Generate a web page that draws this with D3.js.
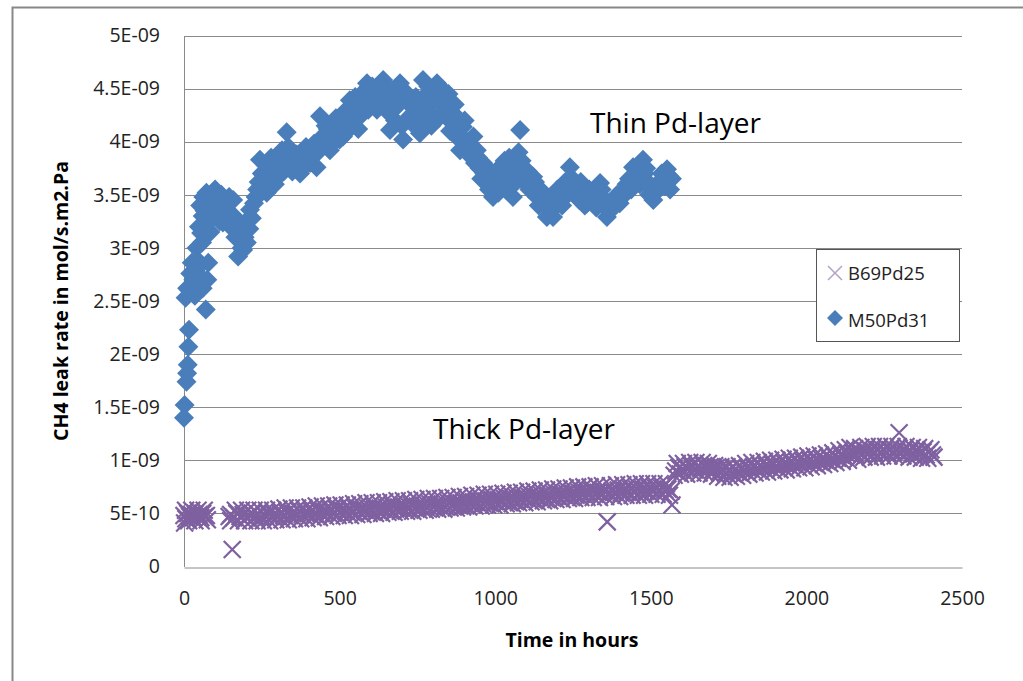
<!DOCTYPE html>
<html><head><meta charset="utf-8">
<script src="https://cdn.jsdelivr.net/npm/d3@7"></script>
<style>
html,body{margin:0;padding:0;background:#fff;}
svg{display:block;font-family:"Open Sans",sans-serif;}
</style></head>
<body>
<svg id="chart" width="1023" height="681"></svg>
<script>
// ---- data (hours, leak rate in units of 1E-09 mol/s.m2.Pa) ----
const seriesNames = ["B69Pd25", "M50Pd31"];
const yTickValues = [0, 0.5, 1, 1.5, 2, 2.5, 3, 3.5, 4, 4.5, 5];
const yTickLabels = ["0", "5E-10", "1E-09", "1.5E-09", "2E-09", "2.5E-09", "3E-09", "3.5E-09", "4E-09", "4.5E-09", "5E-09"];
const xTickValues = [0, 500, 1000, 1500, 2000, 2500];
const annotations = ["Thin Pd-layer", "Thick Pd-layer"];

const b69Hours = [0,6,12,18,24,30,36,42,48,54,60,66,72,2,
5,15,25,35,45,55,65,75,
145,155,150,160,170,180,190,200,210,220,230,240,250,260,270,280,290,300,310,320,330,340,350,360,370,380,390,400,410,420,430,440,450,460,470,480,490,500,510,520,530,540,550,560,570,580,590,600,610,620,630,640,650,660,670,680,690,700,710,720,730,740,750,760,770,780,790,800,810,820,830,840,850,860,870,880,890,900,910,920,930,940,950,960,970,980,990,1000,1010,1020,1030,1040,1050,1060,1070,1080,1090,1100,1110,1120,1130,1140,1150,1160,1170,1180,1190,1200,1210,1220,1230,1240,1250,1260,1270,1280,1290,1300,1310,1320,1330,1340,1350,1360,1365,1375,1385,1395,1405,1415,1425,1435,1445,1455,1465,1475,1485,1495,1505,1515,1525,1535,1545,1555,1568,1565,
150,165,175,185,195,205,215,225,235,245,255,265,275,285,295,305,315,325,335,345,355,365,375,385,395,405,415,425,435,445,455,465,475,485,495,505,515,525,535,545,555,565,575,585,595,605,615,625,635,645,655,665,675,685,695,705,715,725,735,745,755,765,775,785,795,805,815,825,835,845,855,865,875,885,895,905,915,925,935,945,955,965,975,985,995,1005,1015,1025,1035,1045,1055,1065,1075,1085,1095,1105,1115,1125,1135,1145,1155,1165,1175,1185,1195,1205,1215,1225,1235,1245,1255,1265,1275,1285,1295,1305,1315,1325,1335,1345,1355,1370,1380,1390,1400,1410,1420,1430,1440,1450,1460,1470,1480,1490,1500,1510,1520,1530,1540,1550,1560,
1575,1580,1590,1600,1610,1620,1630,1640,1650,1660,1670,1680,1690,1700,1710,1720,1730,1740,1750,1760,1770,1780,1790,1800,1810,1820,1830,1840,1850,1860,1870,1880,1890,1900,1910,1920,1930,1940,1950,1960,1970,1980,1990,2000,2010,2020,2030,2040,2050,2060,2070,2080,2090,2100,2110,2120,2130,2140,2145,2150,2160,2170,2180,2190,2200,2210,2220,2230,2240,2250,2260,2270,2280,2290,2298,2305,2315,2325,2335,2345,2355,2365,2375,2385,2395,2405,2410,
1585,1595,1605,1615,1625,1635,1645,1655,1665,1675,1685,1695,1705,1715,1725,1735,1745,1755,1765,1775,1785,1795,1805,1815,1825,1835,1845,1855,1865,1875,1885,1895,1905,1915,1925,1935,1945,1955,1965,1975,1985,1995,2005,2015,2025,2035,2045,2055,2065,2075,2085,2095,2105,2115,2125,2135,2155,2165,2175,2185,2195,2205,2215,2225,2235,2245,2255,2265,2275,2285,2295,2310,2320,2330,2340,2350,2360,2370,2380,2390,2400];
const b69Values = [0.48,0.45,0.50,0.47,0.49,0.46,0.50,0.47,0.49,0.46,0.50,0.47,0.48,0.41,
0.53,0.43,0.53,0.43,0.53,0.43,0.53,0.44,
0.47,0.16,0.49,0.46,0.50,0.47,0.49,0.46,0.48,0.50,0.47,0.49,0.46,0.48,0.50,0.47,0.49,0.47,0.50,0.48,0.51,0.48,0.50,0.49,0.52,0.49,0.51,0.50,0.52,0.49,0.53,0.50,0.52,0.51,0.53,0.50,0.54,0.51,0.53,0.52,0.54,0.51,0.55,0.52,0.54,0.53,0.55,0.52,0.56,0.53,0.55,0.54,0.56,0.53,0.57,0.54,0.56,0.55,0.57,0.54,0.58,0.55,0.57,0.56,0.58,0.55,0.59,0.56,0.58,0.57,0.59,0.56,0.60,0.57,0.59,0.58,0.60,0.58,0.61,0.59,0.61,0.60,0.62,0.59,0.62,0.60,0.63,0.61,0.63,0.62,0.64,0.61,0.64,0.62,0.65,0.63,0.65,0.64,0.66,0.63,0.66,0.65,0.67,0.64,0.67,0.65,0.68,0.66,0.68,0.67,0.69,0.66,0.69,0.67,0.70,0.68,0.70,0.69,0.71,0.68,0.70,0.69,0.71,0.42,0.69,0.71,0.70,0.72,0.69,0.72,0.70,0.73,0.71,0.73,0.70,0.73,0.71,0.74,0.72,0.74,0.71,0.74,0.72,0.73,0.58,0.71,
0.43,0.53,0.43,0.53,0.43,0.53,0.43,0.53,0.43,0.53,0.43,0.53,0.43,0.53,0.44,0.54,0.44,0.55,0.44,0.55,0.45,0.55,0.45,0.55,0.45,0.56,0.46,0.57,0.46,0.57,0.47,0.57,0.47,0.58,0.48,0.58,0.48,0.58,0.48,0.59,0.49,0.59,0.49,0.60,0.50,0.60,0.50,0.60,0.50,0.61,0.51,0.61,0.51,0.62,0.52,0.62,0.52,0.62,0.52,0.63,0.53,0.63,0.53,0.64,0.54,0.64,0.54,0.64,0.54,0.65,0.55,0.65,0.55,0.66,0.56,0.66,0.56,0.67,0.57,0.67,0.57,0.68,0.58,0.68,0.58,0.68,0.58,0.69,0.59,0.69,0.59,0.70,0.60,0.70,0.60,0.71,0.61,0.71,0.61,0.72,0.62,0.72,0.62,0.73,0.63,0.73,0.63,0.74,0.64,0.74,0.64,0.75,0.65,0.75,0.65,0.75,0.65,0.76,0.65,0.76,0.66,0.76,0.66,0.77,0.66,0.77,0.67,0.77,0.67,0.78,0.67,0.78,0.67,0.78,0.68,0.78,0.68,0.78,0.68,0.78,0.67,
0.86,0.90,0.93,0.91,0.94,0.92,0.95,0.91,0.94,0.92,0.95,0.93,0.94,0.91,0.93,0.89,0.91,0.88,0.90,0.88,0.91,0.89,0.92,0.91,0.93,0.92,0.94,0.92,0.95,0.93,0.95,0.94,0.96,0.94,0.97,0.95,0.97,0.96,0.98,0.96,0.99,0.97,0.99,0.98,1.00,0.98,1.01,0.99,1.01,1.00,1.03,1.01,1.04,1.02,1.05,1.03,1.06,1.12,1.05,1.07,1.05,1.08,1.06,1.09,1.07,1.09,1.07,1.10,1.08,1.09,1.07,1.10,1.08,1.09,1.26,1.07,1.10,1.08,1.09,1.06,1.09,1.07,1.08,1.05,1.08,1.05,1.03,
0.97,0.87,0.97,0.87,0.98,0.88,0.98,0.88,0.98,0.88,0.97,0.87,0.95,0.85,0.94,0.84,0.94,0.84,0.94,0.85,0.95,0.86,0.97,0.87,0.98,0.88,0.98,0.89,0.99,0.89,1.00,0.90,1.00,0.91,1.01,0.91,1.02,0.92,1.02,0.93,1.03,0.93,1.04,0.94,1.04,0.95,1.05,0.96,1.06,0.97,1.07,0.98,1.09,0.99,1.10,1.00,1.11,1.01,1.12,1.03,1.13,1.03,1.13,1.03,1.13,1.04,1.13,1.04,1.13,1.04,1.13,1.04,1.13,1.03,1.12,1.03,1.12,1.02,1.11,1.02,1.10];

const m50Hours = [0,2,8,10,12,14,16,5,10,18,20,25,30,35,40,45,50,60,70,75,78,
55,60,62,70,80,90,100,106,115,125,130,140,150,158,165,174,185,195,202,212,225,235,244,250,257,266,275,285,300,310,320,330,340,355,373,385,400,410,426,437,445,455,469,480,495,511,520,533,545,555,566,575,588,600,615,628,640,650,662,672,685,694,704,712,725,740,758,768,780,790,800,813,822,832,845,855,864,875,887,896,910,925,941,950,961,970,980,993,1005,1015,1025,1035,1045,1057,1065,1075,1080,1090,1100,1110,1122,1134,1145,1155,1166,1180,1186,1195,1210,1225,1240,1255,1270,1282,1295,1310,1325,1337,1348,1359,1370,1385,1400,1415,1430,1443,1455,1465,1475,1485,1495,1508,1520,1535,1552,1562,1568,
40,48,52,58,66,72,85,95,110,120,135,145,160,170,180,190,200,210,218,230,240,248,262,270,280,292,305,315,325,335,348,362,380,392,405,418,430,450,462,475,488,500,515,525,540,550,560,570,580,592,605,620,635,645,655,668,678,690,700,718,730,745,752,762,775,785,795,805,818,828,840,850,860,870,880,892,902,915,930,935,945,955,965,975,985,998,1010,1020,1030,1040,1050,1060,1070,1085,1095,1105,1115,1128,1140,1150,1160,1172,1190,1200,1215,1220,1232,1248,1262,1275,1288,1302,1318,1330,1342,1353,1365,1378,1392,1408,1422,1437,1450,1460,1470,1480,1490,1500,1515,1528,1545,1558];
const m50Values = [1.40,1.52,1.74,1.82,1.90,2.07,2.23,2.53,2.62,2.60,2.76,2.86,2.70,2.55,2.80,2.88,2.74,2.62,2.42,2.70,2.86,
3.14,3.30,3.48,3.22,3.40,3.30,3.55,3.45,3.25,3.24,3.40,3.35,3.20,3.45,3.10,2.92,3.00,3.10,3.05,3.36,3.42,3.55,3.83,3.70,3.64,3.52,3.72,3.68,3.75,3.85,3.72,4.09,3.86,3.80,3.70,3.82,3.88,3.95,3.76,4.24,4.05,4.15,3.92,4.14,4.10,4.05,4.20,4.39,4.25,4.30,4.24,4.40,4.55,4.45,4.38,4.50,4.58,4.40,4.11,4.30,4.45,4.55,4.02,4.20,4.35,4.28,4.08,4.58,4.45,4.35,4.25,4.55,4.40,4.34,4.25,4.10,4.27,4.05,3.92,4.14,3.95,3.85,3.92,3.75,3.80,3.62,3.55,3.48,3.60,3.76,3.65,3.55,3.85,3.48,3.70,3.90,4.11,3.75,3.60,3.55,3.67,3.48,3.55,3.42,3.29,3.35,3.29,3.45,3.50,3.62,3.76,3.60,3.45,3.55,3.42,3.50,3.38,3.61,3.40,3.29,3.35,3.45,3.42,3.55,3.65,3.76,3.70,3.60,3.83,3.75,3.50,3.45,3.60,3.70,3.74,3.55,3.65,
3.00,3.20,3.40,3.05,3.35,3.52,3.15,3.48,3.35,3.50,3.28,3.48,3.30,3.22,3.15,2.98,3.25,3.18,3.28,3.48,3.62,3.52,3.78,3.62,3.85,3.60,3.68,3.92,3.80,3.95,3.72,3.88,3.75,3.95,3.80,3.98,3.90,4.00,4.12,3.98,4.22,4.02,4.28,4.10,4.18,4.42,4.12,4.30,4.48,4.30,4.52,4.30,4.40,4.50,4.28,4.48,4.20,4.35,4.15,4.45,4.18,4.42,4.20,4.35,4.25,4.52,4.15,4.45,4.22,4.50,4.38,4.45,4.18,4.35,4.18,4.05,4.20,3.98,4.05,3.80,3.85,3.65,3.70,3.75,3.58,3.65,3.52,3.70,3.82,3.62,3.72,3.60,3.78,3.82,3.68,3.72,3.58,3.62,3.40,3.52,3.40,3.45,3.38,3.55,3.40,3.55,3.50,3.65,3.52,3.62,3.40,3.55,3.45,3.50,3.55,3.45,3.42,3.38,3.50,3.48,3.60,3.55,3.62,3.78,3.65,3.70,3.62,3.55,3.52,3.62,3.58,3.68];

// ---- layout ----
const svg = d3.select("#chart");
const x = d3.scaleLinear().domain([0, 2500]).range([184, 962]);
const y = d3.scaleLinear().domain([0, 5]).range([566.5, 35.5]);
const gridColor = "#8a8a8a";
const blue = "#4a7ebb", purple = "#7f60a0", lightPurple = "#b3a2c7";

// outer frame
svg.append("path").attr("d", "M12.5,690 L12.5,7.5 L1030,7.5")
  .attr("fill", "none").attr("stroke", "#888").attr("stroke-width", 2);

// gridlines
svg.append("g").selectAll("line").data(yTickValues.slice(1)).join("line")
  .attr("x1", x(0)).attr("x2", x(2500))
  .attr("y1", d => Math.round(y(d)) + 0.5).attr("y2", d => Math.round(y(d)) + 0.5)
  .attr("stroke", gridColor).attr("stroke-width", 1);

// axes
const yAxis = d3.axisLeft(y).tickValues(yTickValues).tickSize(0).tickPadding(24)
  .tickFormat((d, i) => yTickLabels[i]);
const gy = svg.append("g").attr("transform", `translate(${x(0)},0)`).call(yAxis);
gy.select(".domain").attr("stroke", gridColor);
gy.selectAll("text").attr("font-family", "Open Sans").attr("font-size", 19.5).attr("fill", "#222");

const xAxis = d3.axisBottom(x).tickValues(xTickValues).tickSize(0).tickPadding(24)
  .tickFormat(d3.format("d"));
const gx = svg.append("g").attr("transform", `translate(0,${Math.round(y(0)) + 0.5})`).call(xAxis);
gx.select(".domain").attr("stroke", gridColor);
gx.selectAll("text").attr("font-family", "Open Sans").attr("font-size", 19.5).attr("fill", "#222");

// axis titles
svg.append("text").attr("x", 572).attr("y", 647).attr("text-anchor", "middle")
  .attr("font-weight", "bold").attr("font-size", 19.5).text("Time in hours");
svg.append("text").attr("transform", "translate(68,301) rotate(-90)").attr("text-anchor", "middle")
  .attr("font-weight", "bold").attr("font-size", 19.5).text("CH4 leak rate in mol/s.m2.Pa");

// markers
const xMark = h => `M${-h},${-h}L${h},${h}M${h},${-h}L${-h},${h}`;
const diamond = h => `M0,${-h}L${h},0L0,${h}L${-h},0Z`;

const b69 = b69Hours.map((h, i) => [h, b69Values[i]]);
const m50 = m50Hours.map((h, i) => [h, m50Values[i]]);

svg.append("g").selectAll("path").data(b69).join("path")
  .attr("transform", d => `translate(${x(d[0])},${y(d[1])})`)
  .attr("d", xMark(8.5)).attr("fill", "none").attr("stroke", purple).attr("stroke-width", 2.2);

svg.append("g").selectAll("path").data(m50).join("path")
  .attr("transform", d => `translate(${x(d[0])},${y(d[1])})`)
  .attr("d", diamond(10)).attr("fill", blue);

// annotations
svg.append("text").attr("x", 590).attr("y", 133).attr("font-size", 28).attr("fill", "#000").text(annotations[0]);
svg.append("text").attr("x", 433).attr("y", 439).attr("font-size", 28).attr("fill", "#000").text(annotations[1]);

// legend
const lg = svg.append("g");
lg.append("rect").attr("x", 816.5).attr("y", 249.5).attr("width", 143).attr("height", 92)
  .attr("fill", "#fff").attr("stroke", "#555").attr("stroke-width", 1);
lg.append("path").attr("transform", "translate(835,273)").attr("d", xMark(7))
  .attr("stroke", lightPurple).attr("stroke-width", 1.5).attr("fill", "none");
lg.append("path").attr("transform", "translate(835,318)").attr("d", diamond(8)).attr("fill", blue);
lg.selectAll("text").data(seriesNames).join("text")
  .attr("x", 848).attr("y", (d, i) => 280 + i * 47).attr("font-size", 18.5).attr("fill", "#222").text(d => d);
</script>
</body></html>
